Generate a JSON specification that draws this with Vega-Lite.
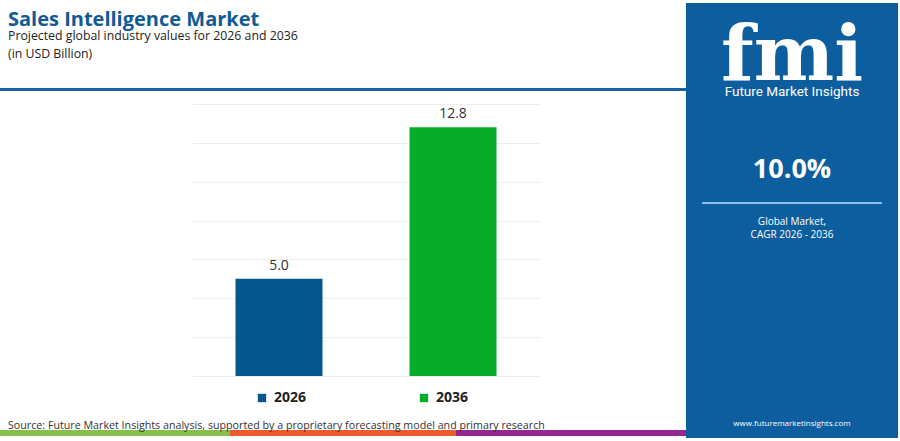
{
  "$schema": "https://vega.github.io/schema/vega-lite/v6.json",
  "background": "white",
  "padding": {"top": 3, "left": 0, "right": 0, "bottom": 0},
  "spacing": 0,
  "config": {
    "view": {"stroke": null},
    "font": "Open Sans",
    "concat": {"spacing": 0}
  },
  "datasets": {
    "market": [
      {"year": "2026", "value": 5.0},
      {"year": "2036", "value": 12.8}
    ],
    "panel": [
      {"part": "logo", "label": "fmi"},
      {"part": "brand", "label": "Future Market Insights"},
      {"part": "cagr", "label": "10.0%"},
      {"part": "note", "label": "Global Market,|CAGR 2026 - 2036"},
      {"part": "url", "label": "www.futuremarketinsights.com"}
    ],
    "empty": []
  },
  "hconcat": [
    {
      "spacing": 0,
      "vconcat": [
        {"width": 686, "height": 7, "data": {"name": "empty"}, "mark": "text"},
        {
          "title": {
            "text": "Sales Intelligence Market",
            "subtitle": ["Projected global industry values for 2026 and 2036", "(in USD Billion)"],
            "anchor": "start",
            "dx": 8,
            "font": "Open Sans",
            "fontSize": 20,
            "fontWeight": "bold",
            "color": "#0f5a97",
            "subtitleFont": "Open Sans",
            "subtitleFontSize": 12.3,
            "subtitleColor": "#222222",
            "subtitlePadding": 0,
            "subtitleLineHeight": 17.5,
            "offset": 28
          },
          "width": 686,
          "height": 3,
          "view": {"fill": "#1b62a4"},
          "data": {"name": "empty"},
          "mark": "text"
        },
        {"width": 686, "height": 13, "data": {"name": "empty"}, "mark": "text"},
        {
          "spacing": 0,
          "hconcat": [
            {"width": 192, "height": 272, "data": {"name": "empty"}, "mark": "text"},
            {
              "width": 348,
              "height": 272,
              "data": {"name": "market"},
              "encoding": {
                "x": {
                  "field": "year",
                  "type": "nominal",
                  "scale": {"paddingInner": 0.5, "paddingOuter": 0.25},
                  "axis": null
                },
                "y": {
                  "field": "value",
                  "type": "quantitative",
                  "scale": {"domain": [0, 14]},
                  "axis": {
                    "values": [0, 2, 4, 6, 8, 10, 12, 14],
                    "labels": false,
                    "ticks": false,
                    "domain": false,
                    "title": null,
                    "grid": true,
                    "gridColor": "#eeeeee",
                    "minExtent": 0
                  }
                }
              },
              "layer": [
                {
                  "mark": {"type": "bar"},
                  "encoding": {
                    "color": {
                      "field": "year",
                      "type": "nominal",
                      "scale": {"domain": ["2026", "2036"], "range": ["#04578e", "#07ac2b"]},
                      "legend": {
                        "orient": "none",
                        "legendX": 255,
                        "legendY": 388,
                        "direction": "horizontal",
                        "title": null,
                        "symbolType": "square",
                        "symbolSize": 70,
                        "symbolStrokeWidth": 0,
                        "labelFont": "Open Sans",
                        "labelFontSize": 14,
                        "labelFontWeight": "bold",
                        "labelColor": "#222222",
                        "labelOffset": 5,
                        "columnPadding": 110
                      }
                    }
                  }
                },
                {
                  "mark": {"type": "text", "baseline": "bottom", "dy": -6, "fontSize": 14, "color": "#333333"},
                  "encoding": {"text": {"field": "value", "type": "quantitative", "format": ".1f"}}
                }
              ]
            },
            {"width": 146, "height": 272, "data": {"name": "empty"}, "mark": "text"}
          ]
        },
        {"width": 686, "height": 44, "data": {"name": "empty"}, "mark": "text"},
        {
          "title": {
            "text": "Source: Future Market Insights analysis, supported by a proprietary forecasting model and primary research",
            "anchor": "start",
            "dx": 8,
            "font": "Open Sans",
            "fontSize": 10.7,
            "fontWeight": "normal",
            "color": "#333333",
            "offset": -2
          },
          "spacing": 0,
          "hconcat": [
            {"width": 230, "height": 6, "view": {"fill": "#86c04a"}, "data": {"name": "empty"}, "mark": "text"},
            {"width": 226, "height": 6, "view": {"fill": "#ee5b2a"}, "data": {"name": "empty"}, "mark": "text"},
            {"width": 230, "height": 6, "view": {"fill": "#93278f"}, "data": {"name": "empty"}, "mark": "text"}
          ]
        }
      ]
    },
    {
      "spacing": 0,
      "bounds": "flush",
      "vconcat": [
        {
          "width": 212, "height": 82, "view": {"fill": "#0c5e9e"},
          "data": {"name": "panel"},
          "transform": [{"filter": "datum.part === 'logo'"}],
          "mark": {"type": "text", "font": "DejaVu Serif", "fontSize": 76, "fontWeight": "bold", "color": "white", "baseline": "alphabetic", "dy": 36},
          "encoding": {"text": {"field": "label"}}
        },
        {
          "width": 212, "height": 14, "view": {"fill": "#0c5e9e"},
          "data": {"name": "panel"},
          "transform": [{"filter": "datum.part === 'brand'"}],
          "mark": {"type": "text", "font": "Roboto", "fontSize": 13.5, "color": "white"},
          "encoding": {"text": {"field": "label"}}
        },
        {
          "width": 212, "height": 103, "view": {"fill": "#0c5e9e"},
          "data": {"name": "panel"},
          "transform": [{"filter": "datum.part === 'cagr'"}],
          "mark": {"type": "text", "font": "Open Sans", "fontSize": 27, "fontWeight": "bold", "color": "white", "dy": 19},
          "encoding": {"text": {"field": "label"}}
        },
        {
          "width": 212, "height": 2, "view": {"fill": "#0c5e9e"},
          "data": {"values": [{"k": "line"}]},
          "mark": {"type": "bar", "color": "#8fbde6"},
          "encoding": {
            "x": {"field": "k", "type": "nominal", "scale": {"paddingInner": 0, "paddingOuter": 0.089}, "axis": null}
          }
        },
        {
          "width": 212, "height": 49, "view": {"fill": "#0c5e9e"},
          "data": {"name": "panel"},
          "transform": [{"filter": "datum.part === 'note'"}],
          "mark": {"type": "text", "font": "Open Sans", "fontSize": 10, "color": "white", "lineBreak": "|", "lineHeight": 13, "dy": -6.5},
          "encoding": {"text": {"field": "label"}}
        },
        {
          "width": 212, "height": 185, "view": {"fill": "#0c5e9e"},
          "data": {"name": "panel"},
          "transform": [{"filter": "datum.part === 'url'"}],
          "mark": {"type": "text", "font": "Open Sans", "fontSize": 8, "color": "white", "dy": 78},
          "encoding": {"text": {"field": "label"}}
        }
      ]
    }
  ]
}
